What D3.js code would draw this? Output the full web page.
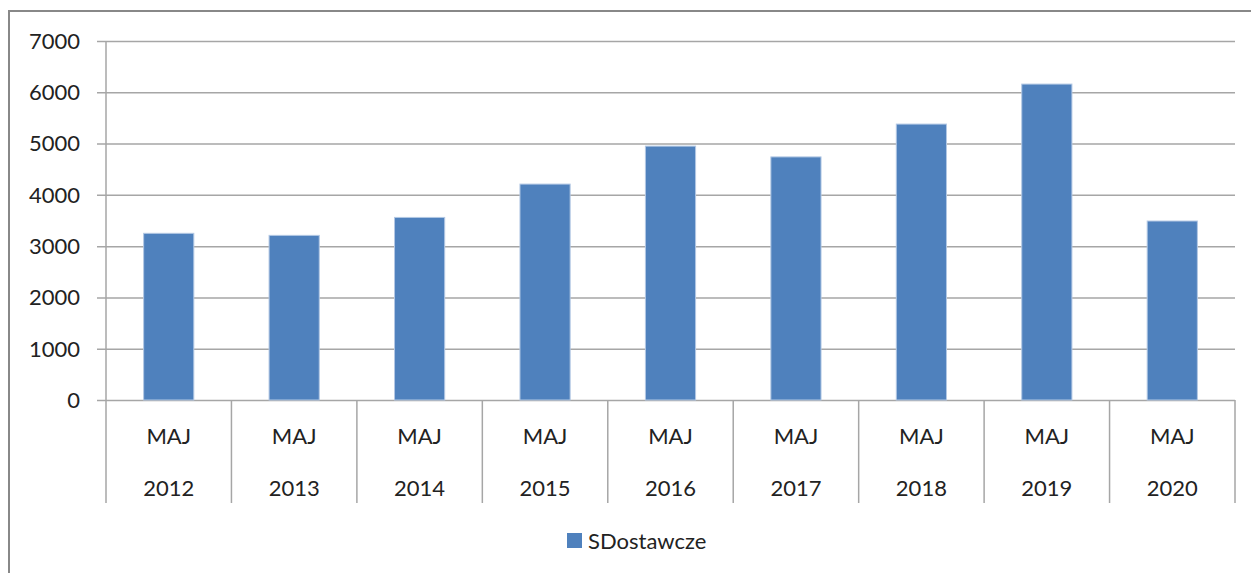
<!DOCTYPE html>
<head>
<meta charset="utf-8">
<style>
body { margin: 0; background: #fff; }
text { font-family: Lato, "Open Sans", sans-serif; fill: #222; }
</style>
</head>
<body>
<script src="https://cdnjs.cloudflare.com/ajax/libs/d3/7.8.5/d3.min.js"></script>
<script>

var months = ['MAJ', 'MAJ', 'MAJ', 'MAJ', 'MAJ', 'MAJ', 'MAJ', 'MAJ', 'MAJ'];
var years = ['2012', '2013', '2014', '2015', '2016', '2017', '2018', '2019', '2020'];
var values = [3250, 3210, 3560, 4210, 4950, 4740, 5380, 6160, 3490];
var yTicks = [0, 1000, 2000, 3000, 4000, 5000, 6000, 7000];
var seriesName = 'SDostawcze';

var width = 1251,
    height = 573;

var svg = d3.select('body').append('svg')
    .attr('width', width)
    .attr('height', height);

// chart frame
svg.append('rect')
    .attr('x', 9).attr('y', 11)
    .attr('width', width + 10).attr('height', height + 10)
    .attr('fill', 'none')
    .attr('stroke', '#888')
    .attr('stroke-width', 2);

var plotLeft = 106, plotRight = 1235, plotTop = 41, plotBottom = 400;

var x = d3.scaleBand()
    .domain(years)
    .range([plotLeft, plotRight])
    .paddingInner(0.6)
    .paddingOuter(0.3);

var y = d3.scaleLinear()
    .domain([0, 7000])
    .range([plotBottom, plotTop]);

// gridlines + y labels
var grid = svg.append('g');
grid.selectAll('line')
    .data(yTicks)
  .enter().append('line')
    .attr('x1', plotLeft - 9).attr('x2', plotRight)
    .attr('y1', function(d) { return y(d) + 0.5; })
    .attr('y2', function(d) { return y(d) + 0.5; })
    .attr('stroke', '#a6a6a6')
    .attr('stroke-width', 1.5);

grid.selectAll('text')
    .data(yTicks)
  .enter().append('text')
    .attr('x', 80)
    .attr('y', function(d) { return y(d); })
    .attr('dy', '0.36em')
    .attr('text-anchor', 'end')
    .style('font-size', '22px')
    .text(function(d) { return d; });

// y axis line
svg.append('line')
    .attr('x1', plotLeft).attr('x2', plotLeft)
    .attr('y1', plotTop).attr('y2', plotBottom)
    .attr('stroke', '#a6a6a6')
    .attr('stroke-width', 1.5);

// bars
svg.append('g').selectAll('rect')
    .data(values)
  .enter().append('rect')
    .attr('x', function(d, i) { return x(years[i]); })
    .attr('y', function(d) { return y(d); })
    .attr('width', x.bandwidth())
    .attr('height', function(d) { return y(0) - y(d); })
    .attr('fill', '#4f81bd')
    .attr('stroke', '#b3c8e4')
    .attr('stroke-width', 1);

// category separators
var step = x.step();
var bounds = d3.range(years.length + 1).map(function(i) { return plotLeft + i * step; });
svg.append('g').selectAll('line')
    .data(bounds)
  .enter().append('line')
    .attr('x1', function(d) { return d; }).attr('x2', function(d) { return d; })
    .attr('y1', plotBottom).attr('y2', 503)
    .attr('stroke', '#a6a6a6')
    .attr('stroke-width', 1.5);

// category labels (two rows)
var cats = svg.append('g');
cats.selectAll('text.m')
    .data(months)
  .enter().append('text')
    .attr('class', 'm')
    .attr('x', function(d, i) { return x(years[i]) + x.bandwidth() / 2; })
    .attr('y', 436)
    .attr('dy', '0.36em')
    .attr('text-anchor', 'middle')
    .style('font-size', '22px')
    .text(function(d) { return d; });

cats.selectAll('text.y')
    .data(years)
  .enter().append('text')
    .attr('class', 'y')
    .attr('x', function(d) { return x(d) + x.bandwidth() / 2; })
    .attr('y', 488)
    .attr('dy', '0.36em')
    .attr('text-anchor', 'middle')
    .style('font-size', '22px')
    .text(function(d) { return d; });

// legend
var legend = svg.append('g').attr('transform', 'translate(567,533)');
legend.append('rect')
    .attr('width', 15).attr('height', 15)
    .attr('fill', '#4f81bd');
legend.append('text')
    .attr('x', 21).attr('y', 8)
    .attr('dy', '0.36em')
    .style('font-size', '22px')
    .text(seriesName);

</script>
</body>
</html>
